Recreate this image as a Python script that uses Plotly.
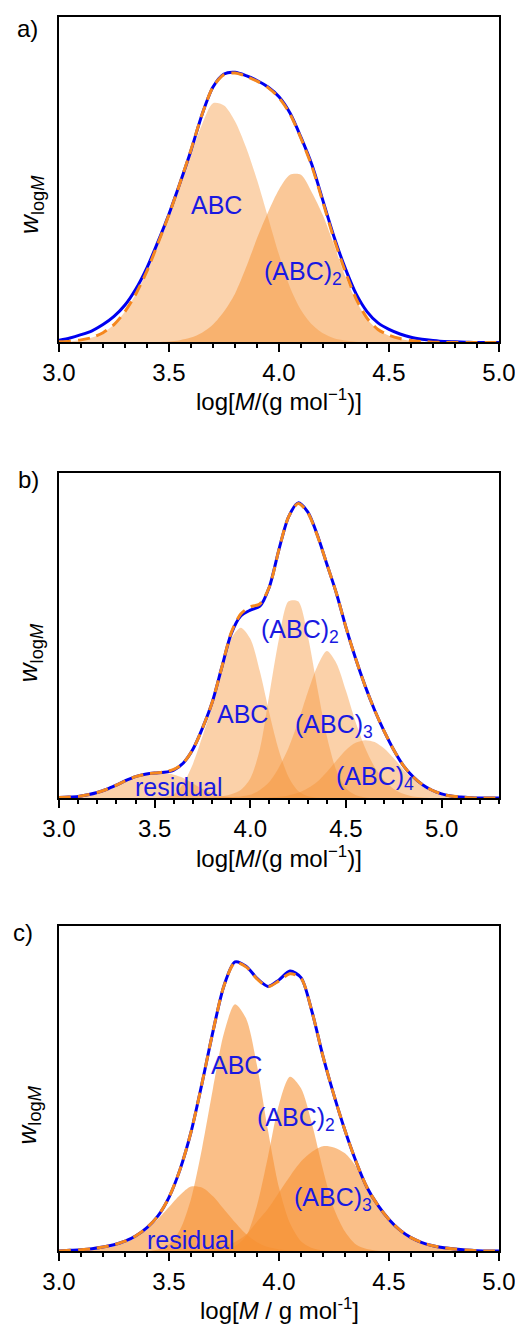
import plotly.graph_objects as go

# ---------------- data ----------------
# panel a
LOGM_A = [3.00, 3.05, 3.10, 3.15, 3.20, 3.25, 3.30, 3.35, 3.40, 3.45,
          3.50, 3.55, 3.60, 3.65, 3.70, 3.75, 3.80, 3.85, 3.90, 3.95,
          4.00, 4.05, 4.10, 4.15, 4.20, 4.25, 4.30, 4.35, 4.40, 4.45,
          4.50, 4.55, 4.60, 4.65, 4.70, 4.75, 4.80, 4.85, 4.90, 4.95, 5.00]
MEAS_A = [0.007, 0.014, 0.024, 0.036, 0.055, 0.080, 0.115, 0.165, 0.230, 0.310,
          0.395, 0.490, 0.590, 0.700, 0.785, 0.825, 0.830, 0.820, 0.805, 0.785,
          0.755, 0.705, 0.630, 0.545, 0.435, 0.325, 0.230, 0.150, 0.095, 0.060,
          0.040, 0.026, 0.016, 0.010, 0.006, 0.003, 0.002, 0.001, 0.000, 0.000, 0.000]
FIT_A = [0.002, 0.004, 0.008, 0.015, 0.030, 0.055, 0.095, 0.150, 0.220, 0.305,
         0.393, 0.490, 0.592, 0.700, 0.785, 0.823, 0.828, 0.818, 0.803, 0.783,
         0.752, 0.702, 0.627, 0.540, 0.430, 0.318, 0.220, 0.135, 0.075, 0.040,
         0.022, 0.012, 0.006, 0.003, 0.001, 0.000, 0.000, 0.000, 0.000, 0.000, 0.000]
ABC_A = [0.000, 0.002, 0.008, 0.015, 0.030, 0.055, 0.095, 0.150, 0.218, 0.302,
         0.388, 0.482, 0.578, 0.670, 0.735, 0.728, 0.680, 0.600, 0.500, 0.385,
         0.270, 0.170, 0.100, 0.055, 0.028, 0.013, 0.006, 0.002, 0.001, 0.000,
         0.000, 0.000, 0.000, 0.000, 0.000, 0.000, 0.000, 0.000, 0.000, 0.000, 0.000]
ABC2_A = [0.000, 0.000, 0.000, 0.000, 0.000, 0.000, 0.000, 0.000, 0.000, 0.001,
          0.003, 0.007, 0.015, 0.030, 0.055, 0.095, 0.150, 0.230, 0.320, 0.400,
          0.470, 0.515, 0.515, 0.460, 0.390, 0.300, 0.205, 0.130, 0.073, 0.039,
          0.021, 0.011, 0.005, 0.002, 0.000, 0.000, 0.000, 0.000, 0.000, 0.000, 0.000]

# panel b
LOGM_B = [3.00, 3.05, 3.10, 3.15, 3.20, 3.25, 3.30, 3.35, 3.40, 3.45,
          3.50, 3.55, 3.60, 3.65, 3.70, 3.75, 3.80, 3.85, 3.90, 3.95,
          4.00, 4.05, 4.10, 4.15, 4.20, 4.25, 4.30, 4.35, 4.40, 4.45,
          4.50, 4.55, 4.60, 4.65, 4.70, 4.75, 4.80, 4.85, 4.90, 4.95,
          5.00, 5.05, 5.10, 5.15, 5.20, 5.25, 5.30]
MEAS_B = [0.002, 0.003, 0.005, 0.010, 0.017, 0.027, 0.040, 0.054, 0.066, 0.073,
          0.077, 0.079, 0.086, 0.108, 0.150, 0.215, 0.293, 0.400, 0.505, 0.560,
          0.578, 0.590, 0.650, 0.765, 0.865, 0.908, 0.880, 0.810, 0.720, 0.630,
          0.525, 0.430, 0.345, 0.270, 0.205, 0.148, 0.100, 0.066, 0.041, 0.024,
          0.013, 0.006, 0.003, 0.001, 0.000, 0.000, 0.000]
FIT_B = [0.002, 0.003, 0.005, 0.010, 0.017, 0.027, 0.040, 0.054, 0.066, 0.073,
         0.077, 0.080, 0.088, 0.108, 0.150, 0.215, 0.293, 0.400, 0.508, 0.566,
         0.588, 0.597, 0.650, 0.765, 0.865, 0.906, 0.878, 0.808, 0.720, 0.630,
         0.525, 0.430, 0.345, 0.270, 0.205, 0.148, 0.100, 0.066, 0.041, 0.024,
         0.013, 0.006, 0.003, 0.001, 0.000, 0.000, 0.000]
RES_B = [0.002, 0.003, 0.005, 0.010, 0.017, 0.027, 0.040, 0.053, 0.064, 0.071,
         0.074, 0.076, 0.072, 0.062, 0.045, 0.028, 0.014, 0.006, 0.002, 0.000,
         0.000, 0.000, 0.000, 0.000, 0.000, 0.000, 0.000, 0.000, 0.000, 0.000,
         0.000, 0.000, 0.000, 0.000, 0.000, 0.000, 0.000, 0.000, 0.000, 0.000,
         0.000, 0.000, 0.000, 0.000, 0.000, 0.000, 0.000]
ABC_B = [0.000, 0.000, 0.000, 0.000, 0.000, 0.000, 0.000, 0.000, 0.000, 0.000,
         0.000, 0.003, 0.012, 0.045, 0.105, 0.190, 0.280, 0.395, 0.490, 0.524,
         0.490, 0.390, 0.260, 0.145, 0.065, 0.022, 0.006, 0.001, 0.000, 0.000,
         0.000, 0.000, 0.000, 0.000, 0.000, 0.000, 0.000, 0.000, 0.000, 0.000,
         0.000, 0.000, 0.000, 0.000, 0.000, 0.000, 0.000]
ABC2_B = [0.000, 0.000, 0.000, 0.000, 0.000, 0.000, 0.000, 0.000, 0.000, 0.000,
          0.000, 0.000, 0.000, 0.000, 0.000, 0.001, 0.002, 0.005, 0.012, 0.025,
          0.060, 0.150, 0.320, 0.490, 0.605, 0.605, 0.500, 0.340, 0.190, 0.085,
          0.030, 0.009, 0.002, 0.000, 0.000, 0.000, 0.000, 0.000, 0.000, 0.000,
          0.000, 0.000, 0.000, 0.000, 0.000, 0.000, 0.000]
ABC3_B = [0.000, 0.000, 0.000, 0.000, 0.000, 0.000, 0.000, 0.000, 0.000, 0.000,
          0.000, 0.000, 0.000, 0.000, 0.000, 0.000, 0.000, 0.001, 0.003, 0.005,
          0.010, 0.025, 0.050, 0.095, 0.155, 0.235, 0.325, 0.405, 0.452, 0.415,
          0.330, 0.235, 0.155, 0.095, 0.055, 0.028, 0.013, 0.005, 0.002, 0.000,
          0.000, 0.000, 0.000, 0.000, 0.000, 0.000, 0.000]
ABC4_B = [0.000, 0.000, 0.000, 0.000, 0.000, 0.000, 0.000, 0.000, 0.000, 0.000,
          0.000, 0.000, 0.000, 0.000, 0.000, 0.000, 0.000, 0.000, 0.000, 0.000,
          0.000, 0.000, 0.002, 0.004, 0.008, 0.016, 0.030, 0.050, 0.080, 0.115,
          0.148, 0.170, 0.178, 0.172, 0.152, 0.122, 0.088, 0.058, 0.035, 0.019,
          0.009, 0.004, 0.001, 0.000, 0.000, 0.000, 0.000]

# panel c
LOGM_C = LOGM_A
MEAS_C = [0.000, 0.002, 0.004, 0.007, 0.012, 0.019, 0.030, 0.047, 0.072, 0.108,
          0.165, 0.250, 0.365, 0.515, 0.675, 0.815, 0.888, 0.875, 0.838, 0.813,
          0.833, 0.860, 0.840, 0.735, 0.598, 0.478, 0.370, 0.275, 0.195, 0.140,
          0.097, 0.064, 0.041, 0.026, 0.016, 0.010, 0.006, 0.003, 0.001, 0.000, 0.000]
FIT_C = [0.000, 0.002, 0.004, 0.007, 0.012, 0.019, 0.030, 0.047, 0.072, 0.108,
         0.165, 0.250, 0.365, 0.515, 0.675, 0.815, 0.886, 0.873, 0.836, 0.812,
         0.830, 0.852, 0.838, 0.735, 0.598, 0.478, 0.370, 0.275, 0.195, 0.140,
         0.097, 0.064, 0.041, 0.026, 0.016, 0.010, 0.006, 0.003, 0.001, 0.000, 0.000]
RES_C = [0.000, 0.001, 0.002, 0.004, 0.008, 0.014, 0.025, 0.042, 0.066, 0.098,
         0.135, 0.172, 0.198, 0.195, 0.168, 0.128, 0.088, 0.052, 0.027, 0.012,
         0.005, 0.002, 0.000, 0.000, 0.000, 0.000, 0.000, 0.000, 0.000, 0.000,
         0.000, 0.000, 0.000, 0.000, 0.000, 0.000, 0.000, 0.000, 0.000, 0.000, 0.000]
ABC_C = [0.000, 0.000, 0.000, 0.000, 0.000, 0.000, 0.000, 0.000, 0.000, 0.005,
         0.020, 0.065, 0.160, 0.315, 0.500, 0.670, 0.758, 0.715, 0.570, 0.370,
         0.195, 0.085, 0.030, 0.009, 0.002, 0.000, 0.000, 0.000, 0.000, 0.000,
         0.000, 0.000, 0.000, 0.000, 0.000, 0.000, 0.000, 0.000, 0.000, 0.000, 0.000]
ABC2_C = [0.000, 0.000, 0.000, 0.000, 0.000, 0.000, 0.000, 0.000, 0.000, 0.000,
          0.000, 0.000, 0.000, 0.000, 0.002, 0.006, 0.015, 0.045, 0.140, 0.290,
          0.450, 0.535, 0.500, 0.390, 0.250, 0.130, 0.060, 0.020, 0.006, 0.001,
          0.000, 0.000, 0.000, 0.000, 0.000, 0.000, 0.000, 0.000, 0.000, 0.000, 0.000]
ABC3_C = [0.000, 0.000, 0.000, 0.000, 0.000, 0.000, 0.000, 0.000, 0.000, 0.000,
          0.000, 0.000, 0.002, 0.004, 0.008, 0.015, 0.028, 0.050, 0.090, 0.130,
          0.180, 0.230, 0.275, 0.305, 0.322, 0.318, 0.300, 0.260, 0.195, 0.140,
          0.097, 0.064, 0.041, 0.026, 0.016, 0.010, 0.006, 0.003, 0.001, 0.000, 0.000]

PANEL_LETTERS = ["a)", "b)", "c)"]
X_TITLES = ["log[<i>M</i>/(g mol<sup>\u22121</sup>)]",
            "log[<i>M</i>/(g mol<sup>\u22121</sup>)]",
            "log[<i>M</i> / g mol<sup>-1</sup>]"]
Y_TITLE = "<i>w</i><sub>log<i>M</i></sub>"

# ---------------- styling ----------------
FONT = "Arial, Liberation Sans, sans-serif"
BLUE = "rgb(0,0,240)"
TXT_BLUE = "rgb(25,25,225)"
ORANGE = "rgb(245,135,30)"


def fill_color(a):
    return f"rgba(246,145,50,{a})"


# the page body adds an 8 px offset, so the figure is 8 px smaller
W, H = 515, 1317
ML, MR, MT, MB = 51, 21, 7, 74
PH = H - MT - MB          # 1236
SCREEN_BOTTOM = 1251      # screen y of the lowest plot edge
SCREEN_LEFT = 59          # screen x of the plot left edge
PW = W - ML - MR          # 443


def py2paper(py):
    return (SCREEN_BOTTOM - py) / PH


def px2paper(px):
    return (px - SCREEN_LEFT) / PW


fig = go.Figure()

panels = [
    dict(x=LOGM_A, meas=MEAS_A, fit=FIT_A,
         comps=[(ABC_A, 0.40), (ABC2_A, 0.50)], xr=[3.0, 5.0],
         dom=(py2paper(341), py2paper(15))),
    dict(x=LOGM_B, meas=MEAS_B, fit=FIT_B,
         comps=[(RES_B, 0.42), (ABC_B, 0.42), (ABC2_B, 0.42), (ABC3_B, 0.42), (ABC4_B, 0.42)],
         xr=[3.0, 5.3], dom=(py2paper(797.3), py2paper(471.7))),
    dict(x=LOGM_C, meas=MEAS_C, fit=FIT_C,
         comps=[(RES_C, 0.58), (ABC_C, 0.58), (ABC2_C, 0.58), (ABC3_C, 0.58)],
         xr=[3.0, 5.0], dom=(0.0, py2paper(925))),
]

for i, p in enumerate(panels):
    n = "" if i == 0 else str(i + 1)
    xa, ya = "x" + n, "y" + n
    for comp, a in p["comps"]:
        fig.add_trace(go.Scatter(x=p["x"], y=comp, xaxis=xa, yaxis=ya, mode="lines",
                                 line=dict(width=0, shape="spline", smoothing=0.8),
                                 fill="tozeroy", fillcolor=fill_color(a),
                                 showlegend=False, hoverinfo="skip"))
    fig.add_trace(go.Scatter(x=p["x"], y=p["meas"], xaxis=xa, yaxis=ya, mode="lines",
                             line=dict(color=BLUE, width=3, shape="spline", smoothing=0.8),
                             showlegend=False, cliponaxis=False))
    fig.add_trace(go.Scatter(x=p["x"], y=p["fit"], xaxis=xa, yaxis=ya, mode="lines",
                             line=dict(color=ORANGE, width=3, dash="12px,7px",
                                       shape="spline", smoothing=0.8),
                             showlegend=False, cliponaxis=False))
    axis_common = dict(showline=True, linecolor="black", linewidth=2, mirror=True,
                       showgrid=False, zeroline=False)
    fig.layout["xaxis" + n] = dict(
        **axis_common, anchor=ya, domain=[0, 1], range=p["xr"],
        tick0=3.0, dtick=0.5, tickformat=".1f", ticks="outside", ticklen=8,
        tickwidth=1.5, tickcolor="black",
        tickfont=dict(family=FONT, size=24, color="black"),
        minor=dict(dtick=0.1, ticks="outside", ticklen=4, tickwidth=1.5, tickcolor="black"))
    fig.layout["yaxis" + n] = dict(
        **axis_common, anchor=xa, domain=list(p["dom"]), range=[0, 1],
        showticklabels=False, ticks="")

# ---------------- text ----------------
ann = []
xt_py = [399, 856, 1309]
yt_py = [203, 652, 1115]
yt_px = [31, 30, 28]
lab_py = [27, 478, 932]
lab_px = [27, 28, 23]
for i in range(3):
    ann.append(dict(text=X_TITLES[i], xref="paper", yref="paper", x=px2paper(281),
                    y=py2paper(xt_py[i]), showarrow=False, xanchor="center", yanchor="middle",
                    font=dict(family=FONT, size=24, color="black")))
    ann.append(dict(text=Y_TITLE, xref="paper", yref="paper", x=px2paper(yt_px[i]),
                    y=py2paper(yt_py[i]), showarrow=False, textangle=-90,
                    xanchor="center", yanchor="middle",
                    font=dict(family=FONT, size=26, color="black")))
    ann.append(dict(text=PANEL_LETTERS[i], xref="paper", yref="paper", x=px2paper(lab_px[i]),
                    y=py2paper(lab_py[i]), showarrow=False, xanchor="center", yanchor="middle",
                    font=dict(family=FONT, size=24, color="black")))

labels = [
    ("x", "y", 3.717, 0.423, "ABC"),
    ("x", "y", 4.109, 0.213, "(ABC)<sub>2</sub>"),
    ("x2", "y2", 4.262, 0.514, "(ABC)<sub>2</sub>"),
    ("x2", "y2", 3.958, 0.258, "ABC"),
    ("x2", "y2", 4.436, 0.222, "(ABC)<sub>3</sub>"),
    ("x2", "y2", 4.653, 0.063, "(ABC)<sub>4</sub>"),
    ("x2", "y2", 3.629, 0.033, "residual"),
    ("x3", "y3", 3.808, 0.570, "ABC"),
    ("x3", "y3", 4.079, 0.406, "(ABC)<sub>2</sub>"),
    ("x3", "y3", 4.245, 0.161, "(ABC)<sub>3</sub>"),
    ("x3", "y3", 3.598, 0.033, "residual"),
]
for xr, yr, x, y, t in labels:
    ann.append(dict(text=t, xref=xr, yref=yr, x=x, y=y, showarrow=False,
                    xanchor="center", yanchor="middle",
                    font=dict(family=FONT, size=25, color=TXT_BLUE)))

fig.update_layout(width=W, height=H, margin=dict(l=ML, r=MR, t=MT, b=MB),
                  paper_bgcolor="white", plot_bgcolor="white", annotations=ann,
                  showlegend=False)

fig.write_html("out.html")
